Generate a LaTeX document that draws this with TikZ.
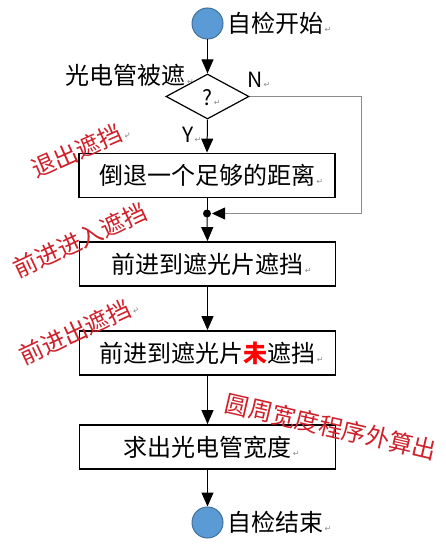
\documentclass[tikz,border=0pt]{standalone}
\usepackage{fontspec}
\setmainfont{Noto Sans CJK SC}
\newfontfamily\symfont{DejaVu Sans}
\usetikzlibrary{arrows.meta,shapes.geometric}
\definecolor{circfill}{HTML}{5B9BD5}
\definecolor{circline}{HTML}{41719C}
\definecolor{redtxt}{HTML}{D0202A}
\definecolor{markgray}{HTML}{8C8C8C}
\newcommand{\pmark}{{\symfont\fontsize{8}{8}\selectfont\color{markgray}\,↵}}
\newcommand{\rmark}{\rlap{\pmark}}
\tikzset{
  every node/.style={font=\fontsize{24}{26}\selectfont},
  termnode/.style={circle,fill=circfill,draw=circline,line width=1pt,minimum size=31pt,inner sep=0pt},
  stepbox/.style={rectangle,draw=black,line width=1.8pt,minimum width=256pt,minimum height=44pt,inner sep=0pt},
  decision/.style={diamond,draw=black,line width=1.2pt,minimum width=83pt,minimum height=45pt,aspect=1.84,inner sep=0pt},
  flow/.style={line width=1pt,-{Triangle[width=12pt,length=14pt]}},
  noteRed/.style={text=redtxt,font=\fontsize{24}{26}\selectfont,inner sep=0pt},
  lbl/.style={inner sep=0pt},
  latin/.style={inner sep=0pt,font=\fontsize{21}{23}\selectfont}
}
\begin{document}
\begin{tikzpicture}[x=1pt,y=-1pt]
\useasboundingbox[fill=white] (0,0) rectangle (446,545);
% nodes
\node[termnode] (start) at (207.5,23.5) {};
\node[lbl,anchor=west] (startlbl) at (227,23) {自检开始\rmark};
\node[decision] (q) at (207.5,96.5) {};
\node[latin] (qm) at (207.5,98) {?\rmark};
\node[lbl,anchor=east] (qlbl) at (186,75) {光电管被遮\rmark};
\node[latin,anchor=west] (nlbl) at (247,80) {N\rmark};
\node[latin,anchor=west] (ylbl) at (182,135) {Y\rmark};
\node[stepbox] (b1) at (207,175.5) {倒退一个足够的距离\rmark};
\coordinate (dot) at (207,213.5);
\coordinate (nc1) at (361,96.5);
\coordinate (nc2) at (361,213.5);
\node[stepbox] (b2) at (207.5,264) {前进到遮光片遮挡\rmark};
\node[stepbox] (b3) at (207.5,353) {前进到遮光片{\color{red}\textbf{未}}遮挡\rmark};
\node[stepbox] (b4) at (207.5,447) {求出光电管宽度\rmark};
\node[termnode] (end) at (207.5,522.5) {};
\node[lbl,anchor=west] (endlbl) at (227,522) {自检结束\rmark};
% red notes
\node[noteRed,rotate=24] (n1) at (77,151) {退出遮挡\rmark};
\node[noteRed,rotate=25] (n2) at (80,240) {前进进入遮挡};
\node[noteRed,rotate=25] (n3) at (75,332) {前进出遮挡\rmark};
\node[noteRed,rotate=-13] (n4) at (331,427) {圆周宽度程序外算出};
% connectors
\draw[flow] (start) -- (q.north);
\draw[flow] (q.south) -- (b1.north);
\draw[line width=1pt] (b1.south) -- (dot);
\fill (dot) circle (4pt);
\draw[flow] (dot) -- (b2.north);
\draw[markgray,line width=0.8pt,-{Triangle[width=12pt,length=13pt,color=black]}] (q.east) -- (nc1) -- (nc2) -- ([xshift=5pt]dot);
\draw[flow] (b2.south) -- (b3.north);
\draw[flow] (b3.south) -- (b4.north);
\draw[flow] (b4.south) -- (end);
\end{tikzpicture}
\end{document}
